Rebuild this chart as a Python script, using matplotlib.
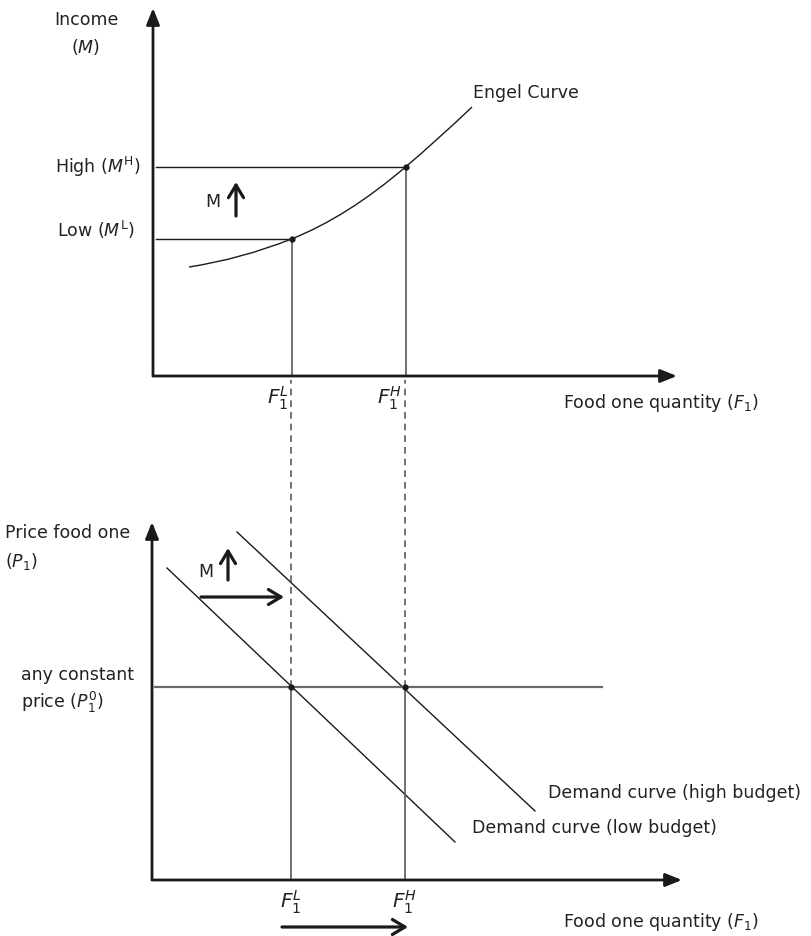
import matplotlib
matplotlib.use("Agg")
import matplotlib.pyplot as plt
from matplotlib.path import Path
from matplotlib.patches import PathPatch

plt.rcParams['font.family'] = ['DejaVu Sans']
plt.rcParams['mathtext.fontset'] = 'dejavusans'

# ---- data (arbitrary units) ----
food_levels = [13.85, 25.25]          # F1^L, F1^H
income_levels = [13.7, 20.9]          # M^L, M^H
price_const = 19.3                    # P1^0

# Engel curve: quadratic bezier vertices (anchor, control, anchor, ...)
engel_q = [3.6, 8.8, 13.85, 19.4, 25.25, 28.45, 31.9]
engel_m = [10.9, 11.7, 13.7, 15.9, 20.9, 23.6, 26.9]

# demand curves (straight lines, two end points each)
demand_low_q = [1.5, 30.3]
demand_low_p = [31.2, 3.8]
demand_high_q = [8.5, 38.3]
demand_high_p = [34.8, 6.9]

price_line_end = 45.0

INK = '#1a1a1a'
GREY = '#5a5a5a'
TXT = '#222222'
FS = 12.5
FS_F = 14.5

W, H = 811, 936
fig = plt.figure(figsize=(W / 100, H / 100), dpi=100)


def axes_px(x0, y0, x1, y1):
    # origin pixel (x0, y0), arrow tips (x1, y1)
    return fig.add_axes([x0 / W, (H - y0) / H, (x1 - x0) / W, (y0 - y1) / H])


def axis_arrows(ax, xmax, ymax):
    kw = dict(arrowstyle='-|>,head_length=0.55,head_width=0.22', lw=2.0,
              color=INK, shrinkA=0, shrinkB=0, mutation_scale=18)
    ax.annotate('', xy=(xmax, 0), xytext=(0, 0), arrowprops=kw, annotation_clip=False)
    ax.annotate('', xy=(0, ymax), xytext=(0, 0), arrowprops=kw, annotation_clip=False)


def open_arrow(ax, start, end):
    ax.annotate('', xy=end, xytext=start, annotation_clip=False,
                arrowprops=dict(arrowstyle='->,head_length=0.5,head_width=0.3',
                                lw=2.3, color=INK, shrinkA=0, shrinkB=0,
                                mutation_scale=18))


# ================= top panel: Engel curve =================
top = axes_px(153, 376, 677, 8)
top.set_xlim(0, 52.4)
top.set_ylim(0, 36.8)
top.axis('off')

codes = [Path.MOVETO] + [Path.CURVE3] * (len(engel_q) - 1)
engel = Path(list(zip(engel_q, engel_m)), codes)
top.add_patch(PathPatch(engel, fill=False, edgecolor=INK, lw=1.0))
for q, m in zip(food_levels, income_levels):
    top.plot([0.3, q], [m, m], color=INK, lw=1.0)
    top.plot([q, q], [0, m], color=GREY, lw=1.2)
    top.plot(q, m, 'o', color=INK, ms=3.5)
axis_arrows(top, 52.4, 36.8)

open_arrow(top, (8.3, 16.0), (8.3, 19.4))
top.text(6.0, 17.4, 'M', fontsize=FS, color=TXT, ha='center', va='center')

top.text(-6.7, 35.6, 'Income', fontsize=FS, color=TXT, ha='center', va='center')
top.text(-6.7, 32.9, '($M$)', fontsize=FS, color=TXT, ha='center', va='center')
top.text(-1.3, 20.9, 'High ($M^{\\rm H}$)', fontsize=FS, color=TXT, ha='right', va='center')
top.text(-1.8, 14.6, 'Low ($M^{\\rm L}$)', fontsize=FS, color=TXT, ha='right', va='center')
top.text(32.0, 28.3, 'Engel Curve', fontsize=FS, color=TXT, ha='left', va='center')
top.text(41.0, -2.7, 'Food one quantity ($F_1$)', fontsize=FS, color=TXT, ha='left', va='center')
top.text(food_levels[0] - 0.3, -2.2, '$F_1^L$', fontsize=FS_F, color=TXT, ha='right', va='center')
top.text(food_levels[1] - 0.3, -2.2, '$F_1^H$', fontsize=FS_F, color=TXT, ha='right', va='center')

# ================= bottom panel: demand curves =================
bot = axes_px(152, 880, 682, 522)
bot.set_xlim(0, 53.0)
bot.set_ylim(0, 35.8)
bot.axis('off')

bot.plot(demand_low_q, demand_low_p, color=INK, lw=1.0)
bot.plot(demand_high_q, demand_high_p, color=INK, lw=1.0)
bot.plot([0.3, price_line_end], [price_const, price_const], color='#6a6a6a', lw=1.6)
for q in food_levels:
    bot.plot([q, q], [0, price_const], color=GREY, lw=1.2)
    # dashed guide up to the top panel's quantity axis
    bot.plot([q, q], [price_const, 50.0], color=GREY, lw=1.2,
             ls=(0, (4, 3)), clip_on=False)
    bot.plot(q, price_const, 'o', color=INK, ms=3.5)
axis_arrows(bot, 53.0, 35.8)

open_arrow(bot, (7.6, 30.0), (7.6, 33.2))
bot.text(5.4, 30.8, 'M', fontsize=FS, color=TXT, ha='center', va='center')
open_arrow(bot, (4.9, 28.3), (13.2, 28.3))
open_arrow(bot, (13.0, -4.7), (25.6, -4.7))

bot.text(-14.7, 34.7, 'Price food one', fontsize=FS, color=TXT, ha='left', va='center')
bot.text(-14.7, 31.8, '($P_1$)', fontsize=FS, color=TXT, ha='left', va='center')
bot.text(-13.1, 20.5, 'any constant', fontsize=FS, color=TXT, ha='left', va='center')
bot.text(-13.1, 17.8, 'price ($P_1^0$)', fontsize=FS, color=TXT, ha='left', va='center')
bot.text(39.6, 8.7, 'Demand curve (high budget)', fontsize=FS, color=TXT, ha='left', va='center')
bot.text(32.0, 5.2, 'Demand curve (low budget)', fontsize=FS, color=TXT, ha='left', va='center')
bot.text(41.1, -4.2, 'Food one quantity ($F_1$)', fontsize=FS, color=TXT, ha='left', va='center')
for q, lab in zip(food_levels, ['$F_1^L$', '$F_1^H$']):
    bot.text(q, -2.2, lab, fontsize=FS_F, color=TXT, ha='center', va='center')

fig.savefig('out.png', dpi=100, facecolor='white')
